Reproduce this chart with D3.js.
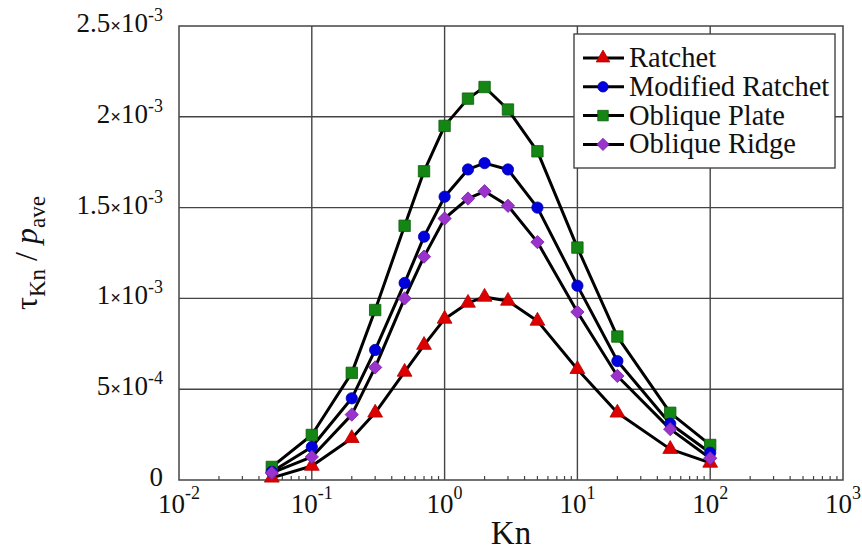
<!DOCTYPE html>
<html>
<head>
<meta charset="utf-8">
<script src="https://cdn.jsdelivr.net/npm/d3@7"></script>
<style>
  html, body { margin: 0; padding: 0; background: #fff; }
  svg { display: block; font-family: "Liberation Serif", "Times New Roman", serif; }
</style>
</head>
<body>
<svg id="chart" width="862" height="550"></svg>
<script>
// ---- Data ----
const knValues = [0.05, 0.1, 0.2, 0.3, 0.5, 0.7, 1, 1.5, 2, 3, 5, 10, 20, 50, 100];
const ratchet = [1.2e-5, 7.7e-5, 2.3e-4, 3.7e-4, 5.95e-4, 7.43e-4, 8.87e-4, 9.75e-4, 1.008e-3, 9.86e-4, 8.76e-4, 6.1e-4, 3.7e-4, 1.7e-4, 9.4e-5];
const modifiedRatchet = [4.5e-5, 1.82e-4, 4.5e-4, 7.16e-4, 1.085e-3, 1.34e-3, 1.56e-3, 1.71e-3, 1.745e-3, 1.71e-3, 1.5e-3, 1.07e-3, 6.55e-4, 3.1e-4, 1.5e-4];
const obliquePlate = [7.2e-5, 2.48e-4, 5.9e-4, 9.36e-4, 1.4e-3, 1.7e-3, 1.95e-3, 2.1e-3, 2.164e-3, 2.04e-3, 1.81e-3, 1.28e-3, 7.9e-4, 3.7e-4, 1.93e-4];
const obliqueRidge = [3.9e-5, 1.27e-4, 3.6e-4, 6.2e-4, 1.0e-3, 1.23e-3, 1.44e-3, 1.55e-3, 1.59e-3, 1.51e-3, 1.31e-3, 9.25e-4, 5.73e-4, 2.8e-4, 1.2e-4];

const seriesNames = ["Ratchet", "Modified Ratchet", "Oblique Plate", "Oblique Ridge"];
const xTicks = [1e-2, 1e-1, 1e0, 1e1, 1e2, 1e3];
const xTickExponents = ["-2", "-1", "0", "1", "2", "3"];
const yTicks = [0, 5e-4, 1e-3, 1.5e-3, 2e-3, 2.5e-3];
const yTickMantissas = ["0", "5", "1", "1.5", "2", "2.5"];
const yTickExponents = ["", "-4", "-3", "-3", "-3", "-3"];

// ---- Layout ----
const svg = d3.select("#chart");
const pL = 179, pR = 843, pT = 26, pB = 480;
const x = d3.scaleLog().domain([1e-2, 1e3]).range([pL, pR]);
const y = d3.scaleLinear().domain([0, 2.5e-3]).range([pB, pT]);

const gridColor = "#444";
const textColor = "#111";

// grid
const g = svg.append("g");
g.selectAll("line.vg").data(xTicks.slice(1, -1)).enter().append("line")
  .attr("x1", d => x(d)).attr("x2", d => x(d)).attr("y1", pT).attr("y2", pB)
  .attr("stroke", gridColor).attr("stroke-width", 1.4);
g.selectAll("line.hg").data(yTicks.slice(1, -1)).enter().append("line")
  .attr("x1", pL).attr("x2", pR).attr("y1", d => y(d)).attr("y2", d => y(d))
  .attr("stroke", gridColor).attr("stroke-width", 1.4);

// minor ticks on bottom axis
const minor = [];
for (let e = -2; e < 3; e++) for (let m = 2; m <= 9; m++) minor.push(m * Math.pow(10, e));
g.selectAll("line.mt").data(minor).enter().append("line")
  .attr("x1", d => x(d)).attr("x2", d => x(d)).attr("y1", pB).attr("y2", pB - 4)
  .attr("stroke", gridColor).attr("stroke-width", 1.2);

// border
g.append("rect").attr("x", pL).attr("y", pT).attr("width", pR - pL).attr("height", pB - pT)
  .attr("fill", "none").attr("stroke", gridColor).attr("stroke-width", 1.5);

// y tick labels
const yl = svg.append("g");
yTicks.forEach((v, i) => {
  const t = yl.append("text").attr("x", 163).attr("y", y(v) + 6)
    .attr("text-anchor", "end").attr("font-size", 27).attr("fill", textColor);
  if (yTickExponents[i] === "") {
    t.text(yTickMantissas[i]);
  } else {
    t.append("tspan").text(yTickMantissas[i]);
    t.append("tspan").text("×").attr("font-size", 19).attr("font-weight", "bold");
    t.append("tspan").text("10");
    t.append("tspan").text(yTickExponents[i]).attr("font-size", 18).attr("dy", -11);
  }
});

// x tick labels
xTicks.forEach((v, i) => {
  const t = svg.append("text").attr("x", x(v)).attr("y", 513)
    .attr("text-anchor", "middle").attr("font-size", 27).attr("fill", textColor);
  t.append("tspan").text("10");
  t.append("tspan").text(xTickExponents[i]).attr("font-size", 18).attr("dy", -14);
});

// axis titles
svg.append("text").attr("x", (pL + pR) / 2).attr("y", 544).attr("text-anchor", "middle")
  .attr("font-size", 33).attr("fill", textColor).text("Kn");

const yt = svg.append("text").attr("transform", "translate(37,253) rotate(-90)")
  .attr("text-anchor", "middle").attr("font-size", 32).attr("fill", textColor);
yt.append("tspan").text("τ");
yt.append("tspan").text("Kn").attr("font-size", 23).attr("dy", 8);
yt.append("tspan").text(" / ").attr("dy", -8);
yt.append("tspan").text("p").attr("font-style", "italic");
yt.append("tspan").text("ave").attr("font-size", 23).attr("dy", 8);

// ---- Series ----
const series = [
  { name: seriesNames[0], values: ratchet, color: "#dd0000", stroke: "#b00000", shape: d3.symbolTriangle, size: 95, rot: 0 },
  { name: seriesNames[1], values: modifiedRatchet, color: "#0000dd", stroke: "#0000aa", shape: d3.symbolCircle, size: 100, rot: 0 },
  { name: seriesNames[2], values: obliquePlate, color: "#138613", stroke: "#0d5e0d", shape: d3.symbolSquare, size: 130, rot: 0 },
  { name: seriesNames[3], values: obliqueRidge, color: "#9933cc", stroke: "#7a22a8", shape: d3.symbolSquare, size: 88, rot: 45 }
];

const line = d3.line().x(d => x(d[0])).y(d => y(d[1]));
const lg = svg.append("g");
series.forEach(s => {
  lg.append("path").datum(knValues.map((k, i) => [k, s.values[i]]))
    .attr("d", line).attr("fill", "none").attr("stroke", "#000").attr("stroke-width", 3)
    .attr("stroke-linejoin", "round");
});

const drawOrder = [0, 2, 1, 3];
const mg = svg.append("g");
drawOrder.forEach(si => {
  const s = series[si];
  mg.selectAll(null).data(knValues.map((k, i) => [k, s.values[i]])).enter().append("path")
    .attr("d", d3.symbol().type(s.shape).size(s.size))
    .attr("transform", d => `translate(${x(d[0])},${y(d[1])}) rotate(${s.rot})`)
    .attr("fill", s.color).attr("stroke", s.stroke).attr("stroke-width", 0.8);
});

// ---- Legend ----
const legX = 574, legY = 34, legW = 261, legH = 134;
const leg = svg.append("g");
leg.append("rect").attr("x", legX).attr("y", legY).attr("width", legW).attr("height", legH)
  .attr("fill", "#fff").attr("stroke", gridColor).attr("stroke-width", 1.4);
series.forEach((s, i) => {
  const cy = 58 + i * 28.8;
  leg.append("line").attr("x1", 583).attr("x2", 624).attr("y1", cy).attr("y2", cy)
    .attr("stroke", "#000").attr("stroke-width", 3);
  leg.append("path").attr("d", d3.symbol().type(s.shape).size(s.size * 0.85))
    .attr("transform", `translate(603,${cy}) rotate(${s.rot})`)
    .attr("fill", s.color).attr("stroke", s.stroke).attr("stroke-width", 0.8);
  leg.append("text").attr("x", 629).attr("y", cy + 9).attr("font-size", 28.5).attr("fill", textColor).text(s.name);
});
</script>
</body>
</html>
